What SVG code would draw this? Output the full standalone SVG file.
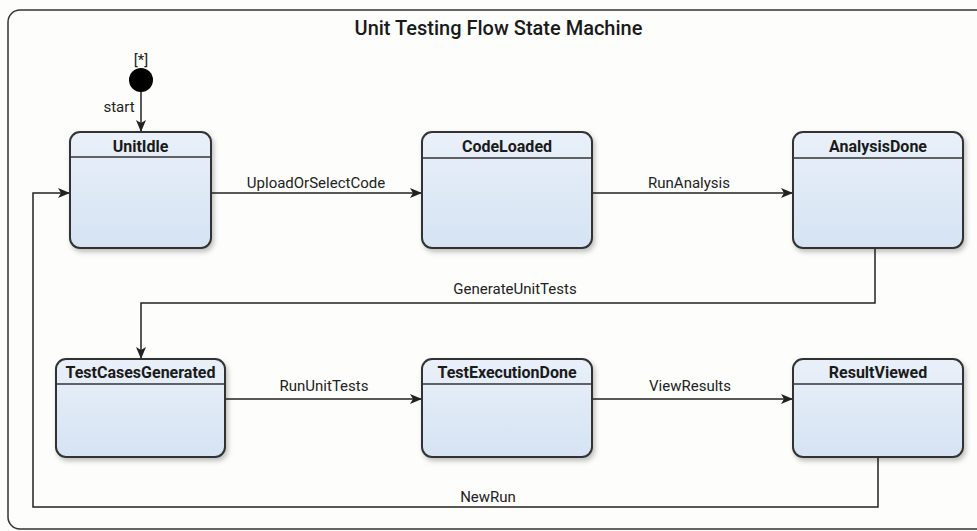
<svg xmlns="http://www.w3.org/2000/svg" width="977" height="531" viewBox="0 0 977 531">
<defs>
<linearGradient id="g" x1="0" y1="0" x2="0" y2="1">
<stop offset="0" stop-color="#e9f0f9"/>
<stop offset="1" stop-color="#d5e3f3"/>
</linearGradient>
<filter id="sh" x="-10%" y="-10%" width="125%" height="130%">
<feDropShadow dx="2" dy="3" stdDeviation="2.5" flood-color="#000" flood-opacity="0.25"/>
</filter>
<marker id="arr" viewBox="0 0 12 10" refX="12" refY="5" markerWidth="12" markerHeight="10" markerUnits="userSpaceOnUse" orient="auto">
<path d="M0,0 L12,5 L0,10 L3,5 Z" fill="#222"/>
</marker>
<style>
.st rect.b{fill:url(#g);stroke:#333;stroke-width:2;filter:url(#sh)}
.st line{stroke:#333;stroke-width:1.5}
.nm{font-family:Roboto,"Liberation Sans",sans-serif;font-weight:bold;font-size:16px;fill:#1a1a1a;text-anchor:middle}
.lb{font-family:Roboto,"Liberation Sans",sans-serif;font-size:15px;fill:#222;text-anchor:middle}
.c path{fill:none;stroke:#222;stroke-width:1.5;marker-end:url(#arr)}
</style>
</defs>
<rect width="977" height="531" fill="#fdfdfb"/>
<rect x="8" y="10" width="1000" height="519" rx="12" fill="none" stroke="#333" stroke-width="1.5"/>
<text x="498.5" y="35" font-family="Roboto,'Liberation Sans',sans-serif" font-size="20" font-weight="500" fill="#1a1a1a" text-anchor="middle">Unit Testing Flow State Machine</text>

<g id="initial">
<circle cx="141" cy="80" r="12" fill="#000"/>
<text x="141" y="65" class="lb">[*]</text>
</g>

<g class="c" id="connectors">
<path d="M141,92 L141,132"/>
<path d="M211,193 L422,193"/>
<path d="M592,193 L793,193"/>
<path d="M875,248 L875,303 L141,303 L141,359"/>
<path d="M225,399 L422,399"/>
<path d="M592,399 L793,399"/>
<path d="M878,457 L878,507 L33,507 L33,193 L70,193"/>
</g>
<g id="labels">
<text x="119" y="112" class="lb">start</text>
<text x="316" y="188" class="lb">UploadOrSelectCode</text>
<text x="689" y="188" class="lb">RunAnalysis</text>
<text x="515" y="294" class="lb">GenerateUnitTests</text>
<text x="324" y="391" class="lb">RunUnitTests</text>
<text x="690" y="391" class="lb">ViewResults</text>
<text x="488" y="502" class="lb">NewRun</text>
</g>

<g id="UnitIdle" class="st">
<rect class="b" x="70" y="132" width="141" height="116" rx="10"/>
<line x1="71" y1="157" x2="210" y2="157"/>
<text x="140.5" y="152" class="nm">UnitIdle</text>
</g>
<g id="CodeLoaded" class="st">
<rect class="b" x="422" y="132" width="170" height="116" rx="10"/>
<line x1="423" y1="158" x2="591" y2="158"/>
<text x="507" y="152" class="nm">CodeLoaded</text>
</g>
<g id="AnalysisDone" class="st">
<rect class="b" x="793" y="132" width="170" height="116" rx="10"/>
<line x1="794" y1="158" x2="962" y2="158"/>
<text x="878" y="152" class="nm">AnalysisDone</text>
</g>
<g id="TestCasesGenerated" class="st">
<rect class="b" x="56" y="359" width="169" height="98" rx="10"/>
<line x1="57" y1="384" x2="224" y2="384"/>
<text x="140.5" y="378" class="nm">TestCasesGenerated</text>
</g>
<g id="TestExecutionDone" class="st">
<rect class="b" x="422" y="359" width="170" height="98" rx="10"/>
<line x1="423" y1="384" x2="591" y2="384"/>
<text x="507" y="378" class="nm">TestExecutionDone</text>
</g>
<g id="ResultViewed" class="st">
<rect class="b" x="793" y="359" width="170" height="98" rx="10"/>
<line x1="794" y1="384" x2="962" y2="384"/>
<text x="878" y="378" class="nm">ResultViewed</text>
</g>
</svg>
